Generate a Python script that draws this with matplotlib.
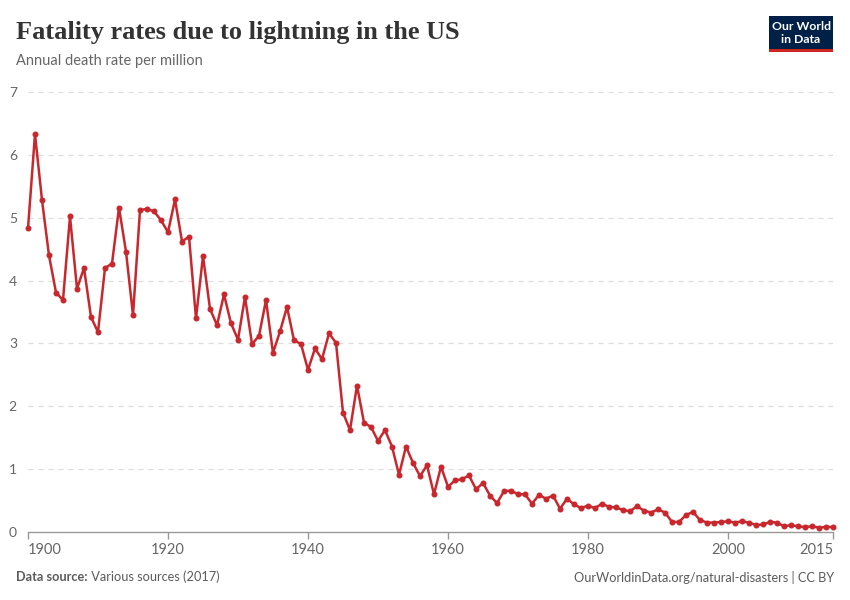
import matplotlib
matplotlib.use("Agg")
import matplotlib.pyplot as plt
from matplotlib.patches import Rectangle

years = list(range(1900, 2016))
rates = [
    4.83, 6.33, 5.28, 4.40, 3.81, 3.69, 5.02, 3.87, 4.20, 3.42,
    3.18, 4.20, 4.27, 5.16, 4.46, 3.45, 5.12, 5.14, 5.10, 4.96,
    4.77, 5.29, 4.62, 4.70, 3.40, 4.39, 3.55, 3.29, 3.78, 3.32,
    3.06, 3.74, 2.99, 3.12, 3.69, 2.85, 3.19, 3.58, 3.05, 2.99,
    2.58, 2.92, 2.75, 3.16, 3.01, 1.90, 1.62, 2.33, 1.74, 1.67,
    1.45, 1.62, 1.36, 0.91, 1.36, 1.10, 0.89, 1.06, 0.60, 1.04,
    0.72, 0.82, 0.84, 0.90, 0.68, 0.78, 0.58, 0.46, 0.65, 0.66,
    0.60, 0.60, 0.45, 0.59, 0.53, 0.58, 0.37, 0.53, 0.44, 0.38,
    0.42, 0.38, 0.45, 0.40, 0.39, 0.35, 0.33, 0.41, 0.34, 0.31,
    0.36, 0.31, 0.16, 0.16, 0.27, 0.32, 0.19, 0.15, 0.15, 0.16,
    0.17, 0.15, 0.17, 0.15, 0.11, 0.12, 0.16, 0.15, 0.09, 0.11,
    0.09, 0.08, 0.09, 0.07, 0.08, 0.08,
]
y_ticks = [0, 1, 2, 3, 4, 5, 6, 7]
x_ticks = [1900, 1920, 1940, 1960, 1980, 2000, 2015]

title = "Fatality rates due to lightning in the US"
subtitle = "Annual death rate per million"
source_bold = "Data source:"
source_rest = " Various sources (2017)"
footer_right = "OurWorldinData.org/natural-disasters | CC BY"

W, H = 850, 600
fig = plt.figure(figsize=(8.5, 6), dpi=100)
fig.patch.set_facecolor("white")

def fx(px):
    return px / W

def fy(py):
    return 1 - py / H

ax = fig.add_axes([fx(28), fy(532), fx(833) - fx(28), fy(92) - fy(532)])
ax.plot(years, rates, color="#c8282d", lw=1.8, marker="o", ms=3.3,
        mec="#c8282d", mfc="#c8282d", clip_on=False, zorder=3)
ax.set_xlim(1900, 2015)
ax.set_ylim(0, 7)

ax.set_yticks(y_ticks)
ax.set_yticklabels([str(v) for v in y_ticks])
for v in y_ticks[1:]:
    ax.axhline(v, color="#dddddd", lw=0.9, ls=(0, (4, 4)), zorder=1)

for s in ["top", "right", "left"]:
    ax.spines[s].set_visible(False)
ax.spines["bottom"].set_color("#999999")
ax.spines["bottom"].set_linewidth(1)

ax.tick_params(axis="y", length=0, pad=8, labelsize=10, labelcolor="#666666")
ax.set_xticks(x_ticks)
ax.set_xticklabels([str(v) for v in x_ticks])
ax.tick_params(axis="x", length=5, width=1, color="#999999", pad=3,
               labelsize=10.5, labelcolor="#666666")
for lab in ax.get_yticklabels():
    lab.set_fontfamily("Lato")
xl = ax.get_xticklabels()
for lab in xl:
    lab.set_fontfamily("Lato")
xl[0].set_horizontalalignment("left")
xl[-1].set_horizontalalignment("right")

fig.text(fx(16), fy(32), title, fontsize=18.9, fontweight="bold",
         family="Liberation Serif", color="#333333", va="center", ha="left")
fig.text(fx(16), fy(61), subtitle, fontsize=10.5, family="Lato",
         color="#666666", va="center", ha="left")

t1 = fig.text(fx(16), fy(577), source_bold, fontsize=9.2, family="Lato",
              fontweight="bold", color="#5b5b5b", va="center", ha="left")
fig.canvas.draw()
bb = t1.get_window_extent()
fig.text(bb.x1 / W, fy(577), source_rest, fontsize=9.2, family="Lato",
         color="#5b5b5b", va="center", ha="left")
fig.text(fx(834), fy(577), footer_right, fontsize=9.2, family="Lato",
         color="#5b5b5b", va="center", ha="right")

# logo
fig.patches.append(Rectangle((fx(769), fy(52)), fx(64), fy(16) - fy(52),
                             transform=fig.transFigure, facecolor="#002147",
                             edgecolor="none", zorder=5))
fig.patches.append(Rectangle((fx(769), fy(52)), fx(64), fy(49) - fy(52),
                             transform=fig.transFigure, facecolor="#ce261e",
                             edgecolor="none", zorder=6))
fig.text(fx(801), fy(26.5), "Our World", fontsize=8.8, family="Lato",
         fontweight="bold", color="white", ha="center", va="center", zorder=7)
fig.text(fx(801), fy(39.5), "in Data", fontsize=8.8, family="Lato",
         fontweight="bold", color="white", ha="center", va="center", zorder=7)

fig.savefig("out.png", dpi=100, facecolor="white")
